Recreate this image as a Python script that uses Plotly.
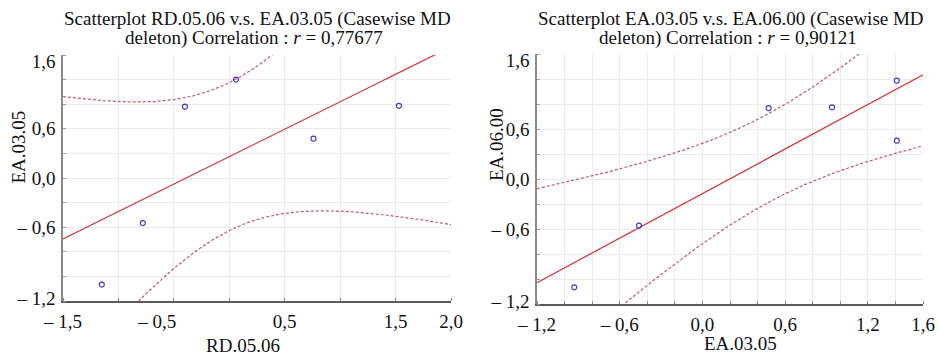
import numpy as np
import plotly.graph_objects as go

# ---------------- data ----------------
rd_05_06 = [-0.40, 0.06, 0.76, 1.53, -0.78, -1.15]
ea_03_05_left = [0.87, 1.20, 0.48, 0.88, -0.55, -1.30]

ea_03_05_right = [0.48, 0.94, 1.41, 1.41, -0.46, -0.93]
ea_06_00 = [0.85, 0.86, 1.18, 0.46, -0.56, -1.30]

titles = [
    ("Scatterplot RD.05.06 v.s. EA.03.05 (Casewise MD",
     "deleton) Correlation : <i>r</i> = 0,77677"),
    ("Scatterplot EA.03.05 v.s. EA.06.00 (Casewise MD",
     "deleton) Correlation : <i>r</i> = 0,90121"),
]

left_x_tick_pos = [-1.5, -0.65, 0.5, 1.5, 2.0]
left_x_tick_text = ["– 1,5", "– 0,5", "0,5", "1,5", "2,0"]
right_x_tick_pos = [-1.2, -0.6, 0.0, 0.6, 1.2, 1.6]
right_x_tick_text = ["– 1,2", "– 0,6", "0,0", "0,6", "1,2", "1,6"]
y_tick_pos = [1.42, 0.6, 0.0, -0.6, -1.47]
y_tick_text = ["1,6", "0,6", "0,0", "– 0,6", "– 1,2"]

T_975_DF4 = 2.776  # Student t, 95 %, n-2 = 4

FONT = "Liberation Serif, Times New Roman, serif"
RED = "#d23c44"
BAND = "#c25a6a"
BLUE = "#3c3cc0"
GRID = "#ebebeb"


def fit(x, y, lo, hi):
    x = np.asarray(x, float)
    y = np.asarray(y, float)
    n = len(x)
    b, a = np.polyfit(x, y, 1)
    res = y - (a + b * x)
    s = np.sqrt(np.sum(res ** 2) / (n - 2))
    sxx = np.sum((x - x.mean()) ** 2)
    xs = np.linspace(lo, hi, 300)
    yh = a + b * xs
    w = T_975_DF4 * s * np.sqrt(1.0 / n + (xs - x.mean()) ** 2 / sxx)
    return xs, yh, yh - w, yh + w


fig = go.Figure()

panels = [
    dict(x=rd_05_06, y=ea_03_05_left, xr=[-1.5, 2.0], xd=0.5, xa="x", ya="y",
         dom_x=[63 / 939, 451 / 939], dom_y=[57 / 358, 303 / 358],
         tpos=left_x_tick_pos, ttxt=left_x_tick_text),
    dict(x=ea_03_05_right, y=ea_06_00, xr=[-1.2, 1.6], xd=0.2, xa="x2", ya="y2",
         dom_x=[537 / 939, 923 / 939], dom_y=[54 / 358, 304 / 358],
         tpos=right_x_tick_pos, ttxt=right_x_tick_text),
]

for p in panels:
    xs, yh, lo, hi = fit(p["x"], p["y"], p["xr"][0], p["xr"][1])
    for yy in (lo, hi):
        fig.add_trace(go.Scatter(x=xs, y=yy, mode="lines", xaxis=p["xa"], yaxis=p["ya"],
                                 line=dict(color=BAND, width=1.2, dash="3px,2px"),
                                 showlegend=False, hoverinfo="skip"))
    fig.add_trace(go.Scatter(x=xs, y=yh, mode="lines", xaxis=p["xa"], yaxis=p["ya"],
                             line=dict(color=RED, width=1.3), showlegend=False))
    fig.add_trace(go.Scatter(x=p["x"], y=p["y"], mode="markers", xaxis=p["xa"], yaxis=p["ya"],
                             marker=dict(symbol="circle-open", size=5, color=BLUE,
                                         line=dict(width=1.1, color=BLUE)),
                             showlegend=False))

tickfont = dict(family=FONT, size=19, color="#111")


def xaxis_cfg(p):
    return dict(domain=p["dom_x"], range=p["xr"], anchor=p["ya"], automargin=False,
                tickmode="array", tickvals=p["tpos"], ticktext=p["ttxt"],
                ticks="", showgrid=False, zeroline=False,
                showline=True, linecolor="#5a5a5a", linewidth=1.5,
                tickfont=tickfont, ticklabelstandoff=2,
                minor=dict(tick0=p["xr"][0], dtick=p["xd"], showgrid=True,
                           gridcolor=GRID, gridwidth=1, ticks="inside",
                           ticklen=3, tickcolor="#888"))


def yaxis_cfg(p):
    return dict(domain=p["dom_y"], range=[-1.5, 1.5], anchor=p["xa"], automargin=False,
                tickmode="array", tickvals=y_tick_pos, ticktext=y_tick_text,
                ticks="", showgrid=False, zeroline=False,
                showline=True, linecolor="#8a8a8a", linewidth=1.6,
                tickfont=tickfont, ticklabelstandoff=2,
                minor=dict(tick0=-1.5, dtick=0.3, showgrid=True,
                           gridcolor=GRID, gridwidth=1, ticks="inside",
                           ticklen=3, tickcolor="#999"))


fig.update_layout(
    width=939, height=358,
    margin=dict(l=0, r=0, t=0, b=0, autoexpand=False),
    paper_bgcolor="white", plot_bgcolor="white",
    font=dict(family=FONT, color="#111"),
    xaxis=xaxis_cfg(panels[0]), yaxis=yaxis_cfg(panels[0]),
    xaxis2=xaxis_cfg(panels[1]), yaxis2=yaxis_cfg(panels[1]),
)

ann = []
title_cx = [257 / 939, 731 / 939]
for cx, (l1, l2) in zip(title_cx, titles):
    ann.append(dict(text=l1, x=cx, y=1 - 18.5 / 358, xref="paper", yref="paper",
                    xanchor="center", yanchor="middle", showarrow=False,
                    font=dict(family=FONT, size=19, color="#111")))
    ann.append(dict(text=l2, x=cx - 3 / 939, y=1 - 38.5 / 358, xref="paper", yref="paper",
                    xanchor="center", yanchor="middle", showarrow=False,
                    font=dict(family=FONT, size=19, color="#111")))

axis_titles = [
    ("RD.05.06", 243 / 939, 1 - 345 / 358, 0),
    ("EA.03.05", 740 / 939, 1 - 343 / 358, 0),
    ("EA.03.05", 17.5 / 939, 1 - 147 / 358, -90),
    ("EA.06.00", 496 / 939, 1 - 145 / 358, -90),
]
for txt, ax, ay, rot in axis_titles:
    ann.append(dict(text=txt, x=ax, y=ay, xref="paper", yref="paper",
                    xanchor="center", yanchor="middle", showarrow=False, textangle=rot,
                    font=dict(family=FONT, size=19, color="#111")))

fig.update_layout(annotations=ann)

fig.write_html(
    "out.html",
    config={"displayModeBar": False},
    post_script="document.body.style.margin='0';document.body.style.overflow='hidden';",
)
